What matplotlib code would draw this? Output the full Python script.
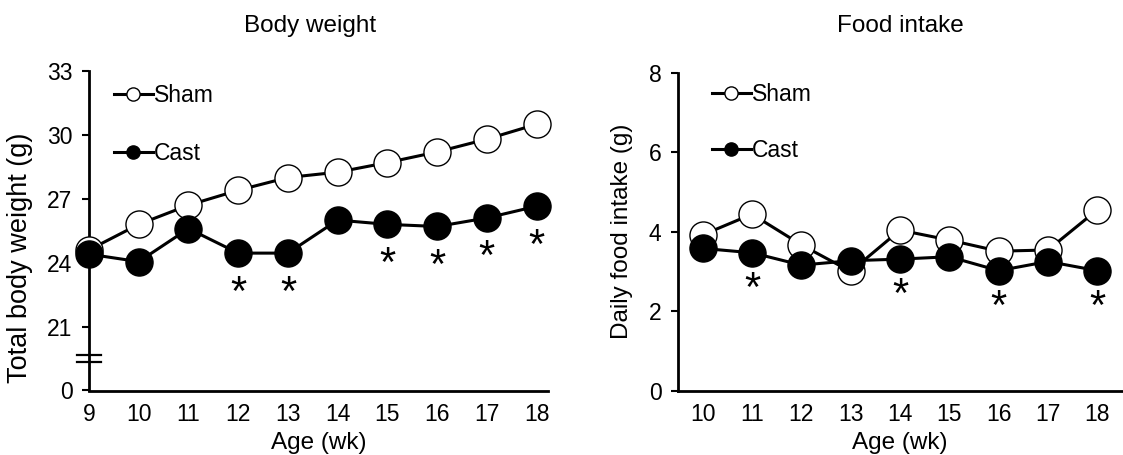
import matplotlib
matplotlib.use("Agg")
import matplotlib.pyplot as plt
import matplotlib.transforms as mtransforms

plt.rcParams['font.family'] = ['Liberation Sans', 'DejaVu Sans']

# ---------------- data ----------------
weeks_bw = [9, 10, 11, 12, 13, 14, 15, 16, 17, 18]
sham_bw = [24.6, 25.8, 26.7, 27.4, 28.0, 28.25, 28.7, 29.2, 29.8, 30.5]
cast_bw = [24.4, 24.05, 25.6, 24.45, 24.45, 26.0, 25.8, 25.7, 26.1, 26.65]
sig_bw = [12, 13, 15, 16, 17, 18]
bw_ticks = [18, 21, 24, 27, 30, 33]
bw_ticklabels = ['0', '21', '24', '27', '30', '33']

weeks_fi = [10, 11, 12, 13, 14, 15, 16, 17, 18]
sham_fi = [3.92, 4.44, 3.67, 3.0, 4.04, 3.79, 3.51, 3.54, 4.55]
cast_fi = [3.58, 3.47, 3.16, 3.27, 3.31, 3.37, 3.02, 3.25, 3.02]
sig_fi = [11, 14, 16, 18]
fi_ticks = [0, 2, 4, 6, 8]

W, H = 1123, 455
fig = plt.figure(figsize=(W / 100, H / 100), dpi=100)

ax1 = fig.add_axes([89 / W, (H - 390.5) / H, 459 / W, 319.5 / H])
ax2 = fig.add_axes([678 / W, (H - 390.7) / H, 444 / W, 318 / H])

LW = 2.2
MS = 19.5
MEW = 1.0
TICKFS = 16.5
LABELFS = 17.5
LEGFS = 16.5


def style_axes(ax):
    for s in ['top', 'right']:
        ax.spines[s].set_visible(False)
    for s in ['left', 'bottom']:
        ax.spines[s].set_linewidth(2.0)
    ax.tick_params(axis='y', direction='out', length=4.8, width=1.5,
                   labelsize=TICKFS, pad=7.0)
    ax.tick_params(axis='x', length=0, labelsize=TICKFS, pad=9)


def draw(ax, weeks, sham, cast, sig, off_pt):
    ax.plot(weeks, sham, '-o', color='black', lw=LW, ms=MS,
            mfc='white', mec='black', mew=MEW, clip_on=False,
            zorder=3, label='Sham')
    ax.plot(weeks, cast, '-o', color='black', lw=LW, ms=MS,
            mfc='black', mec='black', mew=MEW, clip_on=False,
            zorder=4, label='Cast')
    for w in sig:
        yv = cast[weeks.index(w)]
        ax.annotate('*', xy=(w, yv), xytext=(0, -off_pt),
                    textcoords='offset points', ha='center',
                    va='baseline', fontsize=30)


# ---------------- body weight ----------------
draw(ax1, weeks_bw, sham_bw, cast_bw, sig_bw, 37)
ax1.set_xlim(9, 18.23)
ax1.set_ylim(18, 33)
ax1.set_xticks(weeks_bw)
ax1.set_yticks(bw_ticks)
ax1.set_yticklabels(bw_ticklabels)
style_axes(ax1)
ax1.set_xlabel('Age (wk)', fontsize=LABELFS, labelpad=4)
ax1.set_ylabel('Total body weight (g)', fontsize=19.5)
ax1.yaxis.set_label_coords(-0.122, 0.415)
ax1.set_title('Body weight', fontsize=LABELFS, pad=28, x=0.481)

# axis break marks
trans = mtransforms.blended_transform_factory(ax1.transAxes, ax1.transData)
for yb in (19.33, 19.68):
    ax1.plot([-0.0255, 0.0255], [yb, yb], color='black', lw=1.6,
             transform=trans, clip_on=False, zorder=5)

leg1 = ax1.legend(loc='upper left', bbox_to_anchor=(0.054, 0.958),
                  frameon=False, fontsize=LEGFS, handlelength=1.7,
                  handletextpad=0.05, labelspacing=1.53, borderpad=0,
                  borderaxespad=0)

# ---------------- food intake ----------------
draw(ax2, weeks_fi, sham_fi, cast_fi, sig_fi, 34.5)
ax2.set_xlim(9.5, 18.5)
ax2.set_ylim(0, 8)
ax2.set_xticks(weeks_fi)
ax2.set_yticks(fi_ticks)
style_axes(ax2)
ax2.set_xlabel('Age (wk)', fontsize=LABELFS, labelpad=4)
ax2.set_ylabel('Daily food intake (g)', fontsize=LABELFS)
ax2.yaxis.set_label_coords(-0.101, 0.5)
ax2.set_title('Food intake', fontsize=LABELFS, pad=29)

leg2 = ax2.legend(loc='upper left', bbox_to_anchor=(0.076, 0.969),
                  frameon=False, fontsize=LEGFS, handlelength=1.7,
                  handletextpad=0.05, labelspacing=1.47, borderpad=0,
                  borderaxespad=0)

for leg in (leg1, leg2):
    for h in leg.legend_handles:
        h.set_markersize(9.5)

fig.savefig('out.png', dpi=100)
